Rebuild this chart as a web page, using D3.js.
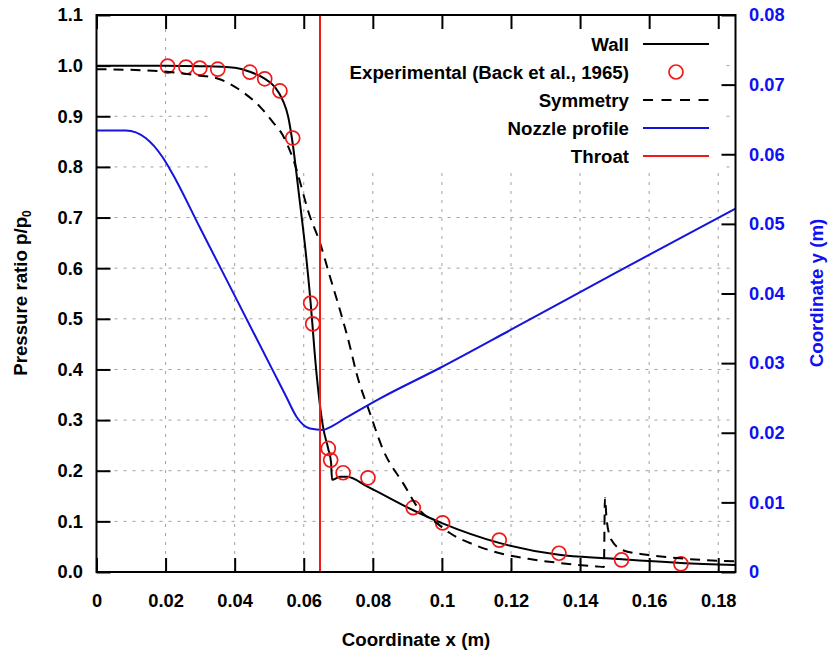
<!DOCTYPE html>
<html lang="en">
<head>
<meta charset="utf-8">
<title>Nozzle pressure ratio</title>
<style>
  body { margin: 0; background: #fff; }
  svg { display: block; font-family: "Liberation Sans", Arial, Helvetica, sans-serif; font-weight: bold; }
  .grid line { stroke: #a0a0a0; stroke-width: 1; stroke-dasharray: 3,6; }
  .axis text { font-size: 18.3px; font-weight: bold; }
  .axis line { stroke: #000; stroke-width: 2; }
  .axis path { display: none; }
</style>
</head>
<body>
<svg width="829" height="659"></svg>
<script src="https://d3js.org/d3.v7.min.js"></script>
<script>
  // tick values and labels
  const xTicks = [0, 0.02, 0.04, 0.06, 0.08, 0.1, 0.12, 0.14, 0.16, 0.18];
  const xTickLabels = ["0", "0.02", "0.04", "0.06", "0.08", "0.1", "0.12", "0.14", "0.16", "0.18"];
  const pTicks = [0, 0.1, 0.2, 0.3, 0.4, 0.5, 0.6, 0.7, 0.8, 0.9, 1.0, 1.1];
  const pTickLabels = ["0.0", "0.1", "0.2", "0.3", "0.4", "0.5", "0.6", "0.7", "0.8", "0.9", "1.0", "1.1"];
  const yTicks = [0, 0.01, 0.02, 0.03, 0.04, 0.05, 0.06, 0.07, 0.08];
  const yTickLabels = ["0", "0.01", "0.02", "0.03", "0.04", "0.05", "0.06", "0.07", "0.08"];

  // wall pressure ratio [x (m), p/p0]
  const wall = [
    [0, 1.000], [0.020, 1.000], [0.030, 0.999], [0.040, 0.996], [0.0444, 0.988],
    [0.0483, 0.976], [0.0516, 0.958], [0.0539, 0.932], [0.0555, 0.899], [0.0565, 0.860],
    [0.0588, 0.735], [0.0605, 0.636], [0.0620, 0.531], [0.0625, 0.490], [0.0631, 0.438],
    [0.0656, 0.286], [0.0671, 0.243], [0.0679, 0.217], [0.0682, 0.182], [0.0705, 0.188],
    [0.0725, 0.188], [0.0786, 0.168], [0.0917, 0.122], [0.1002, 0.096], [0.1168, 0.057],
    [0.1339, 0.034], [0.1477, 0.027], [0.1692, 0.018], [0.1850, 0.014]
  ];

  // experimental data (Back et al., 1965)
  const experimental = [
    [0.0206, 0.999], [0.0259, 0.997], [0.0299, 0.995], [0.0351, 0.993], [0.0444, 0.987],
    [0.0487, 0.974], [0.0531, 0.950], [0.0568, 0.857], [0.0620, 0.531], [0.0626, 0.490],
    [0.0671, 0.244], [0.0678, 0.221], [0.0714, 0.196], [0.0786, 0.186], [0.0917, 0.127],
    [0.1002, 0.097], [0.1166, 0.063], [0.1339, 0.037], [0.1520, 0.024], [0.1692, 0.016]
  ];

  // symmetry axis pressure ratio
  const symmetry = [
    [0, 0.993], [0.0163, 0.990], [0.0290, 0.981], [0.0348, 0.975], [0.0423, 0.948],
    [0.0473, 0.919], [0.0510, 0.889], [0.0539, 0.863], [0.0568, 0.818], [0.0618, 0.702],
    [0.0647, 0.650], [0.0676, 0.583], [0.0705, 0.517], [0.0734, 0.445], [0.0753, 0.392],
    [0.0792, 0.313], [0.0830, 0.241], [0.0888, 0.175], [0.0936, 0.122], [0.0984, 0.097],
    [0.1023, 0.077], [0.1100, 0.052], [0.1168, 0.037], [0.1250, 0.026], [0.1339, 0.018],
    [0.1448, 0.011], [0.1469, 0.010], [0.1472, 0.146], [0.1477, 0.103], [0.1491, 0.063],
    [0.1524, 0.043], [0.1593, 0.034], [0.1689, 0.027], [0.1805, 0.022], [0.1850, 0.021]
  ];

  // nozzle wall profile [x (m), y (m)]
  const nozzle = [
    [0, 0.0634], [0.0085, 0.0634], [0.0143, 0.0623], [0.0191, 0.0596], [0.0220, 0.0572],
    [0.0300, 0.0494], [0.0400, 0.0397], [0.0510, 0.0290], [0.0549, 0.0252], [0.0579, 0.0223],
    [0.0618, 0.0206], [0.0656, 0.0204], [0.0672, 0.0207], [0.0724, 0.0222], [0.0820, 0.0249],
    [0.0994, 0.0293], [0.1200, 0.0348], [0.1500, 0.0429], [0.1850, 0.0522]
  ];

  const throatX = 0.0647;

  const legendItems = [
    {name: "Wall", kind: "wall"},
    {name: "Experimental (Back et al., 1965)", kind: "exp"},
    {name: "Symmetry", kind: "sym"},
    {name: "Nozzle profile", kind: "nozzle"},
    {name: "Throat", kind: "throat"}
  ];

  const plotLeft = 96.5, plotRight = 735.5, plotTop = 15, plotBottom = 572;
  const blueLine = "#1414dc", blueText = "#1010f5", red = "#f01818";
  const labelSize = 18.7;

  const svg = d3.select("svg");

  const x = d3.scaleLinear().domain([0, 0.185]).range([plotLeft, plotRight]);
  const yP = d3.scaleLinear().domain([0, 1.1]).range([plotBottom, plotTop]);
  const yR = d3.scaleLinear().domain([0, 0.08]).range([plotBottom, plotTop]);

  // grid
  const grid = svg.append("g").attr("class", "grid");
  grid.selectAll("line.v")
    .data(xTicks.filter(d => d > 0))
    .enter().append("line")
    .attr("x1", d => x(d)).attr("x2", d => x(d))
    .attr("y1", plotBottom).attr("y2", plotTop);
  grid.selectAll("line.h")
    .data(pTicks.filter(d => d > 0 && d < 1.1))
    .enter().append("line")
    .attr("x1", plotLeft).attr("x2", plotRight)
    .attr("y1", d => yP(d)).attr("y2", d => yP(d));

  // opaque key box (hides the grid behind the legend)
  svg.append("rect")
    .attr("x", 210).attr("y", plotTop + 1)
    .attr("width", 512).attr("height", 157)
    .attr("fill", "#fff");

  // axes
  svg.append("g").attr("class", "axis")
    .attr("transform", `translate(0,${plotBottom})`)
    .call(d3.axisBottom(x).tickValues(xTicks).tickSizeInner(-14).tickSizeOuter(0)
      .tickPadding(22).tickFormat((d, i) => xTickLabels[i]));
  svg.append("g").attr("class", "axis")
    .attr("transform", `translate(0,${plotTop})`)
    .call(d3.axisTop(x).tickValues(xTicks).tickSizeInner(-14).tickSizeOuter(0).tickFormat(""));
  svg.append("g").attr("class", "axis")
    .attr("transform", `translate(${plotLeft},0)`)
    .call(d3.axisLeft(yP).tickValues(pTicks).tickSizeInner(-14).tickSizeOuter(0)
      .tickPadding(13.5).tickFormat((d, i) => pTickLabels[i]));
  const rAxis = svg.append("g").attr("class", "axis")
    .attr("transform", `translate(${plotRight},0)`)
    .call(d3.axisRight(yR).tickValues(yTicks).tickSizeInner(-14).tickSizeOuter(0)
      .tickPadding(13.5).tickFormat((d, i) => yTickLabels[i]));
  rAxis.selectAll("text").attr("fill", blueText);

  // curves
  const lineP = d3.line().x(d => x(d[0])).y(d => yP(d[1])).curve(d3.curveMonotoneX);
  const lineR = d3.line().x(d => x(d[0])).y(d => yR(d[1])).curve(d3.curveMonotoneX);

  svg.append("path").datum(wall)
    .attr("d", lineP).attr("fill", "none").attr("stroke", "#000").attr("stroke-width", 2);

  svg.selectAll("circle.exp")
    .data(experimental)
    .enter().append("circle")
    .attr("class", "exp")
    .attr("cx", d => x(d[0])).attr("cy", d => yP(d[1])).attr("r", 7)
    .attr("fill", "none").attr("stroke", red).attr("stroke-width", 1.7);

  svg.append("path").datum(symmetry)
    .attr("d", lineP).attr("fill", "none").attr("stroke", "#000").attr("stroke-width", 2)
    .attr("stroke-dasharray", "10,7");

  svg.append("path").datum(nozzle)
    .attr("d", lineR).attr("fill", "none").attr("stroke", blueLine).attr("stroke-width", 2);

  svg.append("line")
    .attr("x1", x(throatX)).attr("x2", x(throatX))
    .attr("y1", plotBottom).attr("y2", plotTop)
    .attr("stroke", red).attr("stroke-width", 2);

  // frame
  svg.append("rect")
    .attr("x", plotLeft).attr("y", plotTop)
    .attr("width", plotRight - plotLeft).attr("height", plotBottom - plotTop)
    .attr("fill", "none").attr("stroke", "#000").attr("stroke-width", 2);

  // legend
  const key = svg.append("g").selectAll("g")
    .data(legendItems)
    .enter().append("g")
    .attr("transform", (d, i) => `translate(0,${44 + i * 28})`);
  key.append("text")
    .attr("x", 629).attr("y", 0).attr("dy", "0.35em")
    .attr("text-anchor", "end").attr("font-size", labelSize)
    .text(d => d.name);
  key.filter(d => d.kind !== "exp").append("line")
    .attr("x1", 643).attr("x2", 709)
    .attr("stroke", d => d.kind === "nozzle" ? blueLine : d.kind === "throat" ? red : "#000")
    .attr("stroke-width", 2)
    .attr("stroke-dasharray", d => d.kind === "sym" ? "10,8.5" : null);
  key.filter(d => d.kind === "exp").append("circle")
    .attr("cx", 676).attr("cy", 0).attr("r", 7)
    .attr("fill", "none").attr("stroke", red).attr("stroke-width", 1.7);

  // axis titles
  svg.append("text")
    .attr("x", (plotLeft + plotRight) / 2).attr("y", 646)
    .attr("text-anchor", "middle").attr("font-size", labelSize)
    .text("Coordinate x (m)");

  const yTitle = svg.append("text")
    .attr("transform", "translate(27,293) rotate(-90)")
    .attr("text-anchor", "middle").attr("font-size", labelSize);
  yTitle.append("tspan").text("Pressure ratio p/p");
  yTitle.append("tspan").attr("font-size", 12).attr("dy", 4).text("0");

  svg.append("text")
    .attr("transform", "translate(823,293) rotate(-90)")
    .attr("text-anchor", "middle").attr("font-size", labelSize)
    .attr("fill", blueText)
    .text("Coordinate y (m)");
</script>
</body>
</html>
